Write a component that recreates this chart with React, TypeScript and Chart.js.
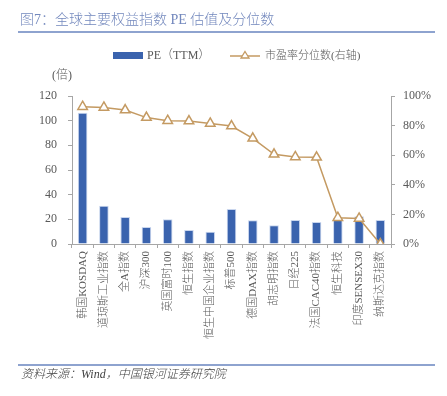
import React, { useEffect, useRef } from "react";
import { Chart, registerables } from "chart.js";

Chart.register(...registerables);

const categories = [
  "韩国KOSDAQ",
  "道琼斯工业指数",
  "全A指数",
  "沪深300",
  "英国富时100",
  "恒生指数",
  "恒生中国企业指数",
  "标普500",
  "德国DAX指数",
  "胡志明指数",
  "日经225",
  "法国CAC40指数",
  "恒生科技",
  "印度SENSEX30",
  "纳斯达克指数",
];
const peValues = [106.5, 31, 21.9, 13.8, 20, 11.3, 10, 28.4, 19.3, 15.2, 19.5, 17.8, 21.3, 22.4, 19.5];
const percentileValues = [92.8, 92.3, 90.5, 85.4, 83.3, 83.1, 81.5, 79.7, 71.4, 60.6, 58.8, 58.6, 17.8, 17.3, 0];

const titleText = "图7：全球主要权益指数 PE 估值及分位数";
const sourceText = "资料来源：Wind，中国银河证券研究院";
const barLabel = "PE（TTM）";
const lineLabel = "市盈率分位数(右轴)";
const unitLabel = "(倍)";

const FONT = "'Liberation Serif', 'Noto Sans CJK SC', serif";
const BAR_COLOR = "#3a63ae";
const LINE_COLOR = "#c49a62";
const AXIS_COLOR = "#a6a6a6";
const TEXT_COLOR = "#595959";

export default function App() {
  const ref = useRef<HTMLCanvasElement | null>(null);

  useEffect(() => {
    if (!ref.current) return;
    const chart = new Chart(ref.current, {
      type: "bar",
      data: {
        labels: categories,
        datasets: [
          {
            type: "line",
            label: lineLabel,
            data: percentileValues,
            yAxisID: "y1",
            borderColor: LINE_COLOR,
            borderWidth: 1.5,
            pointStyle: "triangle",
            pointRadius: 5.5,
            pointBorderWidth: 1.5,
            pointBackgroundColor: "#ffffff",
            pointBorderColor: LINE_COLOR,
            tension: 0,
            order: 0,
          } as any,
          {
            type: "bar",
            label: barLabel,
            data: peValues,
            yAxisID: "y",
            backgroundColor: BAR_COLOR,
            borderColor: "#c9d6ee",
            borderWidth: 1,
            barPercentage: 0.5,
            categoryPercentage: 0.9,
            order: 1,
          } as any,
        ],
      },
      options: {
        animation: false,
        responsive: false,
        maintainAspectRatio: false,
        layout: { padding: { top: 96, left: 0, right: 0, bottom: 0 } },
        plugins: { legend: { display: false }, tooltip: { enabled: false }, title: { display: false } },
        scales: {
          x: {
            offset: true,
            grid: {
              drawOnChartArea: false,
              drawTicks: true,
              tickLength: 4,
              color: AXIS_COLOR,
              offset: true,
            },
            border: { color: AXIS_COLOR, width: 1 },
            ticks: {
              autoSkip: false,
              minRotation: 90,
              maxRotation: 90,
              padding: 3,
              color: TEXT_COLOR,
              font: { family: FONT, size: 11, weight: "300" },
            },
            afterFit: (s: any) => {
              s.height = 152;
            },
          },
          y: {
            position: "left",
            min: 0,
            max: 120,
            grid: { drawOnChartArea: false, drawTicks: true, tickLength: 4, color: AXIS_COLOR },
            border: { color: AXIS_COLOR, width: 1 },
            ticks: {
              stepSize: 20,
              padding: 11,
              color: TEXT_COLOR,
              font: { family: FONT, size: 12 },
            },
            afterFit: (s: any) => {
              s.width = 72;
            },
          },
          y1: {
            position: "right",
            min: 0,
            max: 100,
            grid: { drawOnChartArea: false, drawTicks: true, tickLength: 4, color: AXIS_COLOR },
            border: { color: AXIS_COLOR, width: 1 },
            ticks: {
              stepSize: 20,
              padding: 8,
              color: TEXT_COLOR,
              font: { family: FONT, size: 12 },
              callback: (v: any) => `${v}%`,
            },
            afterFit: (s: any) => {
              s.width = 56;
            },
          },
        },
      },
    });
    return () => chart.destroy();
  }, []);

  return (
    <div
      style={{
        position: "fixed",
        left: 0,
        top: 0,
        width: 447,
        height: 396,
        background: "#ffffff",
        fontFamily: FONT,
        overflow: "hidden",
      }}
    >
      <canvas ref={ref} width={447} height={396} style={{ position: "absolute", left: 0, top: 0, width: 447, height: 396 }} />
      <div
        style={{
          position: "absolute",
          left: 20,
          top: 11,
          fontSize: 14,
          lineHeight: "18px",
          fontWeight: 300,
          color: "#7388bd",
          whiteSpace: "nowrap",
        }}
      >
        {titleText}
      </div>
      <div style={{ position: "absolute", left: 18, top: 31, width: 417, height: 2, background: "#8ea3cf" }} />
      <div style={{ position: "absolute", left: 113, top: 52, width: 30, height: 7, background: BAR_COLOR }} />
      <div
        style={{ position: "absolute", left: 147, top: 48, fontSize: 12, lineHeight: "15px", fontWeight: 300, color: TEXT_COLOR, whiteSpace: "nowrap" }}
      >
        {barLabel}
      </div>
      <svg style={{ position: "absolute", left: 229, top: 49 }} width={32} height={12}>
        <line x1={1} y1={7} x2={31} y2={7} stroke={LINE_COLOR} strokeWidth={1.5} />
        <polygon points="16,2.5 20,9 12,9" fill="#ffffff" stroke={LINE_COLOR} strokeWidth={1.3} />
      </svg>
      <div
        style={{ position: "absolute", left: 265, top: 48, fontSize: 11, lineHeight: "15px", fontWeight: 300, color: TEXT_COLOR, whiteSpace: "nowrap" }}
      >
        {lineLabel}
      </div>
      <div
        style={{ position: "absolute", left: 52, top: 68, fontSize: 12, lineHeight: "15px", fontWeight: 300, color: TEXT_COLOR, whiteSpace: "nowrap" }}
      >
        {unitLabel}
      </div>
      <div style={{ position: "absolute", left: 18, top: 364, width: 417, height: 1.5, background: "#8ea3cf" }} />
      <div
        style={{
          position: "absolute",
          left: 21,
          top: 366,
          fontSize: 12,
          lineHeight: "16px",
          fontWeight: 300,
          color: "#404040",
          fontStyle: "italic",
          whiteSpace: "nowrap",
        }}
      >
        {sourceText}
      </div>
    </div>
  );
}
